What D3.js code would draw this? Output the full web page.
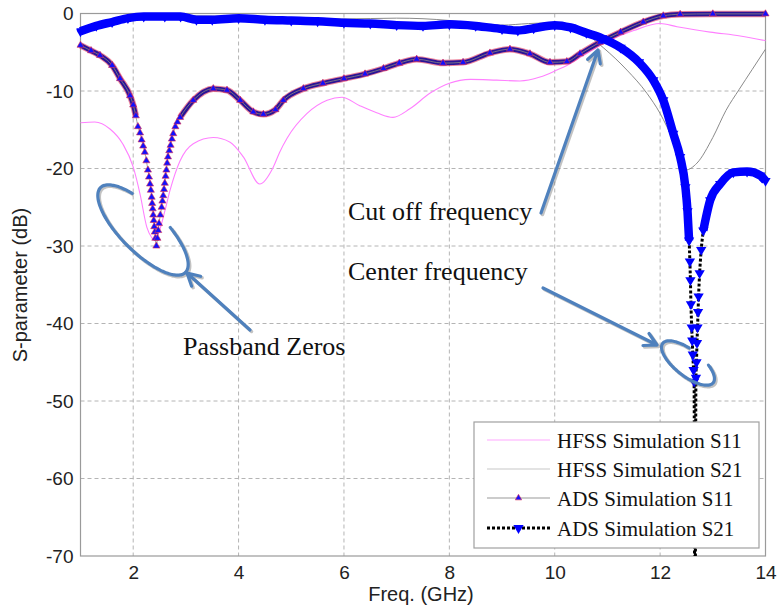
<!DOCTYPE html>
<html>
<head>
<meta charset="utf-8">
<script src="https://cdn.jsdelivr.net/npm/d3@7"></script>
<style>
  body { margin: 0; background: #fff; }
  svg { display: block; }
  .tick text { font-family: "Liberation Sans", Arial, sans-serif; font-size: 19px; fill: #222; }
  .serif { font-family: "Liberation Serif", "Times New Roman", serif; fill: #111; }
</style>
</head>
<body>
<svg id="chart" width="779" height="613"></svg>
<script>
// tick labels
const xTicks = [2, 4, 6, 8, 10, 12, 14];
const yTicks = [0, -10, -20, -30, -40, -50, -60, -70];

// HFSS Simulation S11 (pink)
const hfssS11F = [1.0, 1.27, 1.56, 1.8, 2.0, 2.13, 2.26, 2.35, 2.41, 2.5, 2.6, 2.7, 2.89, 3.14, 3.52, 3.84, 4.09, 4.4,
  4.66, 4.78, 4.92, 5.3, 5.68, 5.96, 6.3, 6.62, 6.93, 7.25, 7.63, 8.0, 8.4, 8.9, 9.34, 9.72, 10.04, 10.23, 10.5,
  11.0, 11.5, 12.0, 12.32, 12.95, 13.52, 14.0];
const hfssS11 = [-14.1, -14.0, -14.9, -16.8, -19.8, -23.3, -27.6, -28.9, -29.3, -28.0, -25.5, -22.8, -19.0, -16.8,
  -16.0, -16.6, -18.5, -22.0, -19.8, -17.9, -16.1, -12.9, -11.2, -10.8, -11.9, -12.8, -13.4, -12.3, -10.3, -9.0,
  -8.5, -8.6, -8.7, -8.2, -7.3, -6.7, -5.6, -3.6, -2.2, -1.3, -1.7, -2.4, -2.9, -3.5];

// HFSS Simulation S21 (grey)
const hfssS21F = [1.0, 1.5, 2.0, 3.0, 4.0, 5.0, 6.0, 7.0, 8.0, 8.5, 9.0, 9.5, 10.0, 10.5, 10.92, 11.37, 11.75, 12.0,
  12.25, 12.48, 12.7, 13.0, 13.25, 13.5, 13.75, 14.0];
const hfssS21 = [-1.8, -1.0, -0.4, -0.3, -0.4, -0.6, -0.7, -0.6, -0.9, -1.3, -1.5, -1.3, -1.2, -2.2, -4.4, -7.3,
  -10.3, -12.9, -16.4, -20.2, -19.3, -16.0, -12.5, -9.8, -7.2, -4.6];

// ADS Simulation S11
const adsS11F = [1.0, 1.2, 1.37, 1.6, 1.75, 1.94, 2.0, 2.05, 2.09, 2.13, 2.16, 2.19, 2.22, 2.25, 2.28, 2.3, 2.32,
  2.335, 2.35, 2.36, 2.37, 2.38, 2.39, 2.4, 2.41, 2.42, 2.44, 2.46, 2.475, 2.49, 2.515, 2.54, 2.555, 2.57, 2.585,
  2.6, 2.615, 2.63, 2.645, 2.66, 2.685, 2.71, 2.735, 2.76, 2.8, 2.84, 2.89, 3.14, 3.52, 3.78, 4.03, 4.28, 4.47,
  4.7, 4.85, 5.23, 5.6, 6.0, 6.4, 6.75, 7.05, 7.38, 7.88, 8.26, 8.77, 9.15, 9.53, 9.91, 10.23, 10.48, 10.86,
  11.25, 11.68, 12.06, 12.38, 13.0, 14.0];
const adsS11 = [-4.1, -4.8, -5.4, -6.7, -8.4, -10.6, -11.8, -13.2, -14.6, -15.4, -16.3, -17.1, -17.9, -19.0, -20.2,
  -21.1, -22.0, -22.8, -23.7, -24.5, -25.2, -26.0, -26.7, -27.5, -28.2, -29.0, -30.0, -29.0, -28.0, -27.1, -26.0,
  -25.0, -24.2, -23.5, -22.7, -21.9, -21.0, -20.2, -19.3, -18.5, -17.7, -17.0, -16.2, -15.5, -14.6, -14.0, -13.4,
  -11.2, -9.7, -9.9, -11.2, -12.7, -13.0, -12.4, -11.2, -9.7, -9.0, -8.4, -7.8, -7.1, -6.4, -5.9, -6.4, -6.3,
  -5.1, -4.6, -5.2, -6.3, -6.2, -5.2, -3.7, -2.4, -1.1, -0.3, -0.1, -0.05, -0.05];

// ADS Simulation S21
const adsS21F = [1.0, 1.3, 1.6, 1.9, 2.2, 2.6, 2.9, 3.2, 3.5, 4.0, 4.5, 5.0, 5.5, 6.0, 6.5, 7.0, 7.5, 8.0, 8.5,
  9.0, 9.3, 9.6, 10.0, 10.3, 10.6, 10.9, 11.25, 11.6, 11.87, 12.06, 12.25, 12.38, 12.48, 12.52, 12.55, 12.565,
  12.575, 12.585, 12.6, 12.61, 12.62, 12.635, 12.645, 12.66, 12.68, 12.69, 12.7, 12.71, 12.72, 12.73, 12.75,
  12.78, 12.82, 12.95, 13.14, 13.39, 13.65, 13.9, 14.0];
const adsS21 = [-2.3, -1.6, -1.1, -0.6, -0.4, -0.4, -0.4, -0.8, -0.8, -0.6, -0.8, -0.9, -1.0, -1.2, -1.3, -1.5,
  -1.6, -1.4, -1.6, -2.0, -2.2, -1.9, -1.5, -1.8, -2.5, -3.2, -4.4, -6.3, -8.6, -11.2, -15.5, -18.5, -22.4, -25.5,
  -29.3, -32.0, -34.4, -37.5, -40.5, -42.2, -44.0, -46.0, -47.5, -90.0, -47.0, -45.0, -42.5, -40.5, -38.5, -36.5,
  -33.5, -30.5, -28.0, -24.1, -22.0, -20.5, -20.4, -20.9, -21.6];

const svg = d3.select('#chart');
const X0 = 80.5, X1 = 765.5, Y0 = 13.5, Y1 = 556;
const x = d3.scaleLinear().domain([1, 14]).range([X0, X1]);
const y = d3.scaleLinear().domain([-70, 0]).range([Y1, Y0]);
const pts = (f, v) => f.map((fi, i) => [fi, v[i]]);

svg.append('defs').append('clipPath').attr('id', 'plot-clip')
  .append('rect').attr('x', X0 - 4).attr('y', Y0 - 8).attr('width', X1 - X0 + 12).attr('height', Y1 - Y0 + 8);

// grid
const grid = svg.append('g');
grid.selectAll('line.gx').data(xTicks.filter(t => t < 14)).enter().append('line')
  .attr('x1', d => x(d)).attr('x2', d => x(d)).attr('y1', Y0).attr('y2', Y1)
  .attr('stroke', '#b4b4b4').attr('stroke-width', 1).attr('stroke-dasharray', '4,3');
grid.selectAll('line.gy').data(yTicks.filter(t => t < 0 && t > -70)).enter().append('line')
  .attr('x1', X0).attr('x2', X1).attr('y1', d => y(d)).attr('y2', d => y(d))
  .attr('stroke', '#b4b4b4').attr('stroke-width', 1).attr('stroke-dasharray', '4,3');

svg.append('rect').attr('x', X0).attr('y', Y0).attr('width', X1 - X0).attr('height', Y1 - Y0)
  .attr('fill', 'none').attr('stroke', '#9a9a9a').attr('stroke-width', 1.2);

// axes (plain hyphen minus, like the original)
const fmt = d => String(d);
const xAxis = svg.append('g').attr('transform', `translate(0,${Y1})`)
  .call(d3.axisBottom(x).tickValues(xTicks).tickFormat(fmt).tickSize(0).tickPadding(10));
xAxis.select('.domain').remove();
const yAxis = svg.append('g').attr('transform', `translate(${X0},0)`)
  .call(d3.axisLeft(y).tickValues(yTicks).tickFormat(fmt).tickSize(0).tickPadding(7));
yAxis.select('.domain').remove();

svg.append('text').attr('x', 421).attr('y', 601).attr('text-anchor', 'middle')
  .attr('font-family', '"Liberation Sans", Arial, sans-serif').attr('font-size', 20).attr('fill', '#222')
  .text('Freq. (GHz)');
svg.append('text').attr('transform', 'translate(27,285) rotate(-90)').attr('text-anchor', 'middle')
  .attr('font-family', '"Liberation Sans", Arial, sans-serif').attr('font-size', 20).attr('fill', '#222')
  .text('S-parameter (dB)');

// curves
const line = d3.line().x(d => x(d[0])).y(d => y(d[1])).curve(d3.curveMonotoneX);
const plot = svg.append('g').attr('clip-path', 'url(#plot-clip)');

plot.append('path').attr('d', line(pts(hfssS11F, hfssS11)))
  .attr('fill', 'none').attr('stroke', '#ff80ff').attr('stroke-width', 1.1);
plot.append('path').attr('d', line(pts(hfssS21F, hfssS21)))
  .attr('fill', 'none').attr('stroke', '#8a8a8a').attr('stroke-width', 1);

// ADS S11: thick band outside the dip, thin grey line + triangles inside it
const s11 = pts(adsS11F, adsS11);
const s11Band = d3.line().x(d => x(d[0])).y(d => y(d[1])).curve(d3.curveMonotoneX).defined(d => d[1] > -13.5);
plot.append('path').attr('d', s11Band(s11))
  .attr('fill', 'none').attr('stroke', '#e0305a').attr('stroke-width', 6.5).attr('stroke-opacity', 0.6);
plot.append('path').attr('d', s11Band(s11))
  .attr('fill', 'none').attr('stroke', '#2a1496').attr('stroke-width', 4.5);
plot.append('path').attr('d', line(s11))
  .attr('fill', 'none').attr('stroke', '#888').attr('stroke-width', 0.8);
plot.selectAll('path.m11').data(s11).enter().append('path')
  .attr('transform', d => `translate(${x(d[0])},${y(d[1])})`)
  .attr('d', d3.symbol(d3.symbolTriangle, 22))
  .attr('fill', '#1010ff').attr('stroke', '#e03050').attr('stroke-width', 0.6);

// ADS S21: dotted black line, thick blue band, down triangles
const s21 = pts(adsS21F, adsS21);
plot.append('path').attr('d', line(s21))
  .attr('fill', 'none').attr('stroke', '#000').attr('stroke-width', 3).attr('stroke-dasharray', '3,2');
const s21Band = d3.line().x(d => x(d[0])).y(d => y(d[1])).curve(d3.curveMonotoneX).defined(d => d[1] > -30);
plot.append('path').attr('d', s21Band(s21))
  .attr('fill', 'none').attr('stroke', '#0000ff').attr('stroke-width', 8.5).attr('stroke-linejoin', 'round');
plot.selectAll('path.m21').data(s21.filter(d => d[1] > -70)).enter().append('path')
  .attr('transform', d => `translate(${x(d[0])},${y(d[1])}) rotate(180)`)
  .attr('d', d3.symbol(d3.symbolTriangle, 46))
  .attr('fill', '#0000ff');

// annotations
const ann = svg.append('g');
const annColor = '#4f81bd';

function arrow(x1, y1, x2, y2) {
  const ang = Math.atan2(y2 - y1, x2 - x1);
  const hl = 14, spread = 0.5;
  const head = `M${x2 - hl * Math.cos(ang - spread)},${y2 - hl * Math.sin(ang - spread)}L${x2},${y2}` +
    `L${x2 - hl * Math.cos(ang + spread)},${y2 - hl * Math.sin(ang + spread)}`;
  const d = `M${x1},${y1}L${x2},${y2}` + head;
  ann.append('path').attr('d', d).attr('transform', 'translate(1.5,1.5)')
    .attr('fill', 'none').attr('stroke', '#777').attr('stroke-opacity', 0.45).attr('stroke-width', 3.5)
    .attr('stroke-linecap', 'round').attr('stroke-linejoin', 'round');
  ann.append('path').attr('d', d)
    .attr('fill', 'none').attr('stroke', annColor).attr('stroke-width', 3.2)
    .attr('stroke-linecap', 'round').attr('stroke-linejoin', 'round');
}

function ellipseArc(cx, cy, a, b, rot, t1, t2) {
  const r = rot * Math.PI / 180;
  const ts = d3.range(t1, t2 + 0.1, 3).map(t => t * Math.PI / 180);
  const p = ts.map(t => [
    cx + a * Math.cos(t) * Math.cos(r) - b * Math.sin(t) * Math.sin(r),
    cy + a * Math.cos(t) * Math.sin(r) + b * Math.sin(t) * Math.cos(r)
  ]);
  const d = d3.line().curve(d3.curveCardinal)(p);
  ann.append('path').attr('d', d).attr('transform', 'translate(1.5,1.5)')
    .attr('fill', 'none').attr('stroke', '#777').attr('stroke-opacity', 0.45).attr('stroke-width', 3.5);
  ann.append('path').attr('d', d)
    .attr('fill', 'none').attr('stroke', annColor).attr('stroke-width', 3.2).attr('stroke-linecap', 'round');
}

ellipseArc(143, 230, 60, 22, 45, -73, 236);
ellipseArc(688, 363, 32, 13, 38, -57, 255);
arrow(250, 330, 187, 273);
arrow(541, 213, 598, 50);
arrow(543, 288, 657, 345);

ann.append('text').attr('class', 'serif').attr('x', 348).attr('y', 220).attr('font-size', 26).text('Cut off frequency');
ann.append('text').attr('class', 'serif').attr('x', 348).attr('y', 280).attr('font-size', 26).text('Center frequency');
ann.append('text').attr('class', 'serif').attr('x', 183).attr('y', 355).attr('font-size', 26).text('Passband Zeros');

// legend
const legendItems = ['HFSS Simulation S11', 'HFSS Simulation S21', 'ADS Simulation S11', 'ADS Simulation S21'];
const leg = svg.append('g');
leg.append('rect').attr('x', 474).attr('y', 422).attr('width', 285).attr('height', 126)
  .attr('fill', '#fff').attr('stroke', '#a0a0a0').attr('stroke-width', 1.2);
const rowY = [440, 469, 498, 528];
const lx1 = 487, lx2 = 550, lmid = (lx1 + lx2) / 2;
leg.append('line').attr('x1', lx1).attr('x2', lx2).attr('y1', rowY[0]).attr('y2', rowY[0])
  .attr('stroke', '#ffa8ff').attr('stroke-width', 1.2);
leg.append('line').attr('x1', lx1).attr('x2', lx2).attr('y1', rowY[1]).attr('y2', rowY[1])
  .attr('stroke', '#c8c8c8').attr('stroke-width', 1.2);
leg.append('line').attr('x1', lx1).attr('x2', lx2).attr('y1', rowY[2]).attr('y2', rowY[2])
  .attr('stroke', '#999').attr('stroke-width', 1);
leg.append('path').attr('transform', `translate(${lmid},${rowY[2]})`)
  .attr('d', d3.symbol(d3.symbolTriangle, 18)).attr('fill', '#1010ff').attr('stroke', '#e03050').attr('stroke-width', 0.6);
leg.append('line').attr('x1', lx1).attr('x2', lx2).attr('y1', rowY[3]).attr('y2', rowY[3])
  .attr('stroke', '#000').attr('stroke-width', 3).attr('stroke-dasharray', '3,2');
leg.append('path').attr('transform', `translate(${lmid},${rowY[3]}) rotate(180)`)
  .attr('d', d3.symbol(d3.symbolTriangle, 46)).attr('fill', '#0000ff');
leg.selectAll('text.li').data(legendItems).enter().append('text')
  .attr('class', 'serif').attr('x', 557).attr('y', (d, i) => rowY[i] + 8).attr('font-size', 21).text(d => d);
</script>
</body>
</html>
